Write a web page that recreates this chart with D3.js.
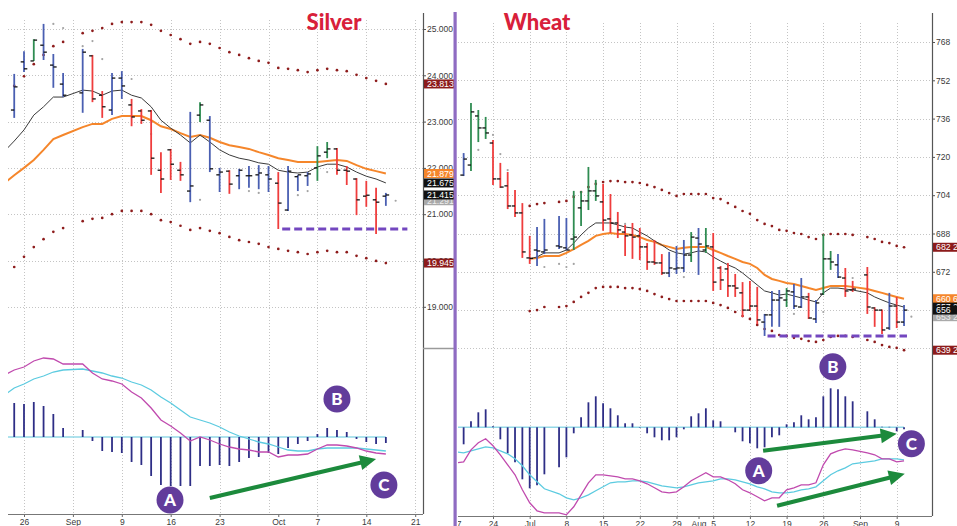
<!DOCTYPE html>
<html>
<head>
<meta charset="utf-8">
<script src="https://cdn.jsdelivr.net/npm/d3@7/dist/d3.min.js"></script>
<style>
  html, body { margin: 0; padding: 0; background: #fff; }
  svg { display: block; font-family: "Liberation Sans", Arial, sans-serif; }
  .title { font-family: Lato, "Open Sans", sans-serif; font-weight: 900; font-size: 22px; fill: #d8203a; }
  .mark-letter { font-family: Lato, "Open Sans", sans-serif; font-weight: 900; font-size: 17px; fill: #fff; }
</style>
</head>
<body>
<svg id="chart" width="957" height="526"></svg>
<script>
// ---------- trading calendar (weekday slots; holidays keep their slot) ----------
const fmtDay = d3.timeFormat("%b %-d");
function tradingSlots(start, end) {
  return d3.timeDay.range(start, d3.timeDay.offset(end, 1))
    .filter(d => d.getDay() !== 0 && d.getDay() !== 6);
}
const silverDates = tradingSlots(new Date(2013, 7, 22), new Date(2013, 9, 21));
const wheatDates  = tradingSlots(new Date(2013, 5, 17), new Date(2013, 8, 11));

// ---------- Silver (daily, Aug 22 - Oct 16) ----------
// [open, high, low, close]
const silverBars = [
  null,
  [23.25, 24.03, 23.08, 23.75], [24.29, 24.52, 24.07, 24.14], [24.31, 24.78, 24.31, 24.76],
  [24.65, 25.11, 24.33, 24.50], [24.22, 24.46, 23.73, 24.18], [23.81, 24.05, 23.53, 23.57],
  null,
  [23.62, 24.57, 23.19, 24.50], [24.42, 24.44, 23.42, 23.49], [23.57, 23.66, 23.08, 23.32],
  [23.25, 24.05, 23.14, 23.94], [23.94, 24.09, 23.49, 23.77], [23.36, 23.49, 22.90, 23.10],
  [23.23, 23.27, 22.95, 23.03], [23.23, 23.25, 21.85, 22.21], [21.95, 22.34, 21.46, 21.76],
  [22.39, 22.41, 21.74, 22.08], [21.95, 22.13, 21.72, 21.85], [21.50, 23.21, 21.26, 21.61],
  [23.14, 23.42, 22.99, 23.36], [23.03, 23.12, 21.91, 21.98], [21.85, 22.00, 21.48, 21.91],
  [21.93, 21.95, 21.44, 21.65], [21.83, 21.98, 21.54, 21.95], [21.83, 22.04, 21.57, 21.83],
  [21.85, 22.06, 21.54, 21.89], [21.85, 22.04, 21.48, 21.76], [21.67, 21.91, 20.68, 21.24],
  [21.09, 22.04, 21.07, 21.93], [21.81, 21.85, 21.50, 21.85], [21.83, 21.91, 21.61, 21.87],
  [22.00, 22.47, 21.72, 22.26], [22.34, 22.56, 22.21, 22.41], [22.41, 22.43, 21.85, 21.95],
  [21.95, 22.04, 21.63, 21.93], [21.76, 21.78, 20.98, 21.31], [21.39, 21.72, 21.16, 21.41],
  [21.31, 21.57, 20.57, 21.26], [21.39, 21.46, 21.18, 21.415]
];
const silverImpulse = [null,"b","b","g","b","b","b",null,"b","r","r","b","b","r","r","r","r","r","r","b",
  "g","b","b","r","b","b","b","b","r","b","b","b","g","g","r","r","r","r","r","b"];
const silverEmaFast = [22.36, 22.58, 22.82, 23.14, 23.32, 23.53, 23.53, null, 23.68, 23.66, 23.57, 23.66,
  23.68, 23.57, 23.51, 23.32, 23.03, 22.86, 22.71, 22.54, 22.71, 22.56, 22.39, 22.28, 22.21, 22.17, 22.11,
  22.08, 21.95, 21.91, 21.89, 21.91, 22.02, 22.08, 22.08, 22.02, 21.91, 21.82, 21.76, 21.675];
const silverEmaSlow = [21.67, 21.84, 22.00, 22.17, 22.39, 22.62, 22.71, null, 22.88, 22.95, 22.95, 23.06,
  23.12, 23.12, 23.12, 23.03, 22.90, 22.84, 22.75, 22.67, 22.71, 22.65, 22.56, 22.49, 22.45, 22.41, 22.34,
  22.28, 22.21, 22.17, 22.13, 22.13, 22.13, 22.15, 22.17, 22.15, 22.06, 21.98, 21.93, 21.879];
const silverUpper = [null, 23.77, 23.98, 24.24, 24.44, 24.63, 24.72, null, 24.91, 24.96, 25.02, 25.11,
  25.15, 25.15, 25.15, 25.09, 24.96, 24.87, 24.78, 24.68, 24.72, 24.68, 24.59, 24.50, 24.44, 24.37, 24.31,
  24.27, 24.16, 24.14, 24.11, 24.07, 24.11, 24.14, 24.11, 24.09, 24.01, 23.94, 23.88, 23.813];
const silverLower = [null, 19.86, 20.08, 20.29, 20.46, 20.62, 20.70, null, 20.85, 20.90, 20.92, 21.00,
  21.07, 21.07, 21.07, 21.00, 20.87, 20.83, 20.75, 20.66, 20.70, 20.64, 20.59, 20.51, 20.44, 20.40, 20.36,
  20.29, 20.25, 20.21, 20.18, 20.14, 20.18, 20.21, 20.18, 20.18, 20.10, 20.05, 19.99, 19.945];
const silverStops = [["Aug 29", 25.11], ["Aug 30", 25.02], ["Sep 3", 24.63], ["Sep 4", 24.74], ["Sep 5", 24.35],
  ["Sep 10", 23.92], ["Sep 12", 22.73], ["Sep 19", 21.31], ["Sep 26", 21.50], ["Sep 27", 21.46],
  ["Oct 3", 21.41], ["Oct 4", 21.50], ["Oct 8", 21.91], ["Oct 17", 21.291]];
const silverHist = [null, 0.170, 0.165, 0.175, 0.155, 0.115, 0.045, null, 0.035, -0.020, -0.070, -0.075,
  -0.080, -0.125, -0.140, -0.195, -0.240, -0.245, -0.245, -0.245, -0.145, -0.145, -0.140, -0.145, -0.125,
  -0.105, -0.100, -0.080, -0.085, -0.055, -0.035, -0.020, 0.015, 0.045, 0.035, 0.025, -0.010, -0.025,
  -0.035, -0.030];
const silverMacd = [0.31, 0.335, 0.35, 0.38, 0.395, 0.39, 0.365, null, 0.365, 0.32, 0.29, 0.28, 0.265,
  0.225, 0.195, 0.145, 0.085, 0.055, 0.02, -0.02, 0, -0.015, -0.035, -0.05, -0.06, -0.065, -0.075, -0.075,
  -0.10, -0.09, -0.09, -0.085, -0.06, -0.04, -0.04, -0.045, -0.055, -0.07, -0.08, -0.085];
const silverSignal = [0.21, 0.245, 0.265, 0.29, 0.305, 0.325, 0.335, null, 0.34, 0.33, 0.32, 0.305, 0.295,
  0.275, 0.26, 0.235, 0.20, 0.17, 0.135, 0.10, 0.085, 0.07, 0.05, 0.025, 0.005, -0.01, -0.025, -0.035,
  -0.05, -0.065, -0.07, -0.07, -0.06, -0.055, -0.055, -0.055, -0.055, -0.06, -0.065, -0.07];
const silverPriceTicks = [19, 20, 21, 22, 23, 24, 25];
const silverDateTicks = [["Aug 26", "26"], ["Sep 2", "Sep"], ["Sep 9", "9"], ["Sep 16", "16"], ["Sep 23", "23"],
  ["Oct 1", "Oct"], ["Oct 7", "7"], ["Oct 14", "14"], ["Oct 21", "21"]];
const silverSupport = { level: 20.68, from: 28.4, to: 41.2 };
const silverCallouts = [{ t: "A", slot: 16.93, v: -0.315 }, { t: "B", slot: 34.0, v: 0.19 }, { t: "C", slot: 38.8, v: -0.24 }];
const silverArrows = [{ from: [21.0, -0.305], to: [38.0, -0.11] }];

// ---------- Wheat (daily, Jun 18 - Sep 10) ----------
const wheatBars = [
  null,
  [712.4, 721.6, 712.0, 719.1], [716.6, 742.5, 714.1, 738.8], [737.1, 739.6, 726.2, 732.1],
  [732.1, 736.7, 727.5, 730.0], [725.8, 727.1, 708.3, 710.8], [710.8, 717.5, 707.0, 707.4],
  [707.9, 713.7, 698.2, 699.5], [699.5, 706.2, 694.9, 696.6], [696.6, 700.7, 677.8, 680.3],
  [677.8, 687.0, 675.3, 677.6], [681.1, 690.7, 674.4, 680.7], [680.3, 694.1, 679.4, 681.1],
  null,
  [682.8, 695.3, 681.5, 682.4], [682.0, 694.5, 681.1, 681.1], [685.7, 705.8, 681.1, 686.5],
  [698.7, 705.8, 691.1, 701.6], [701.6, 715.8, 697.8, 705.8], [705.8, 710.4, 701.6, 703.7],
  [701.2, 708.7, 689.1, 693.6], [694.1, 704.5, 688.2, 692.4], [692.4, 697.0, 686.1, 689.5],
  [688.6, 691.6, 678.6, 687.0], [687.4, 692.4, 677.4, 686.5], [687.0, 690.3, 676.9, 682.4],
  [682.4, 684.0, 672.8, 676.1], [676.1, 685.3, 674.9, 675.7], [675.7, 679.4, 670.7, 671.5],
  [671.5, 680.3, 669.8, 673.6], [673.2, 682.8, 671.1, 673.6], [673.6, 685.3, 671.9, 679.0],
  [679.0, 688.6, 676.1, 686.5], [686.1, 690.3, 670.7, 683.6], [681.1, 690.3, 679.9, 682.8],
  [682.4, 688.2, 664.0, 667.7], [673.6, 674.4, 664.4, 668.6], [673.2, 675.7, 661.5, 666.1],
  [666.1, 671.1, 661.5, 665.2], [663.2, 667.7, 653.1, 656.0], [656.0, 668.2, 655.6, 657.7],
  [657.7, 665.7, 650.2, 651.9], [651.0, 654.4, 645.2, 654.0], [654.0, 664.0, 649.0, 660.2],
  [660.2, 664.4, 649.0, 661.1], [660.2, 665.2, 657.3, 664.0], [663.6, 666.9, 656.5, 657.7],
  [657.3, 669.4, 656.9, 661.5], [661.5, 663.2, 652.3, 652.7], [652.3, 660.2, 650.6, 659.0],
  [662.7, 687.8, 662.3, 677.4], [677.4, 680.7, 672.8, 676.1], [674.9, 679.4, 669.4, 669.8],
  [669.4, 673.6, 661.5, 664.0], [664.4, 668.2, 663.6, 664.8],
  null,
  [670.7, 674.0, 654.4, 657.3], [656.9, 657.2, 649.0, 656.0], [656.0, 656.3, 646.0, 647.7],
  [648.5, 663.2, 647.7, 657.7], [657.7, 661.5, 648.5, 651.0], [651.0, 658.1, 649.4, 656.0]
];
const wheatImpulse = [null,"b","g","g","g","r","r","r","r","r","r","b","b",null,"b","b","g","g","g","g",
  "r","r","r","r","r","r","r","r","r","b","b","b","g","b","g","r","r","r","r","r","r","r","b","b","b","g",
  "b","b","r","b","g","g","b","r","r",null,"r","r","r","b","r","b"];
const wheatEmaFast = [null, null, null, null, null, null, null, null, null, null,
  677.4, 678.2, 679.9, null, 679.9, 681.1, 684.0, 687.4, 690.3, 692.4, 692.4, 692.4, 691.6, 690.7, 690.3,
  688.6, 687.0, 684.9, 683.2, 681.1, 679.9, 679.4, 679.9, 680.7, 680.3, 678.2, 676.5, 674.9, 673.6, 671.5,
  669.0, 666.5, 664.0, 663.2, 662.3, 662.7, 661.9, 661.1, 660.2, 659.4, 663.2, 665.2, 665.2, 664.8, 664.4,
  null, 663.2, 661.5, 660.2, 659.0, 658.1, 657.25];
const wheatEmaSlow = [null, null, null, null, null, null, null, null, null, null,
  677.4, 677.8, 678.6, null, 678.6, 679.9, 681.5, 683.2, 684.9, 687.0, 687.8, 688.2, 687.8, 687.8, 687.4,
  686.5, 685.3, 684.5, 683.2, 682.4, 681.5, 682.0, 682.4, 682.4, 682.4, 681.1, 679.9, 678.6, 677.4, 676.1,
  675.3, 673.6, 670.7, 669.0, 668.2, 667.3, 666.9, 666.1, 665.2, 664.4, 665.2, 666.1, 666.1, 666.1, 665.7,
  null, 664.8, 664.0, 663.2, 662.3, 661.5, 660.75];
const wheatUpper = [null, null, null, null, null, null, null, null, null, null,
  699.5, 700.3, 700.7, null, 701.2, 701.6, 703.3, 705.3, 707.4, 708.7, 709.5, 709.9, 709.9, 709.5, 709.5,
  709.1, 708.3, 707.4, 706.2, 704.9, 703.7, 704.5, 704.5, 704.5, 704.5, 702.8, 702.4, 700.7, 699.1, 697.4,
  696.2, 693.6, 692.0, 691.1, 689.5, 689.1, 688.2, 687.8, 686.5, 685.7, 687.4, 687.8, 687.8, 687.8, 687.4,
  null, 686.5, 685.7, 684.5, 684.0, 682.8, 682.25];
const wheatLower = [null, null, null, null, null, null, null, null, null, null,
  655.6, 656.0, 657.3, null, 657.3, 657.7, 659.4, 661.5, 663.2, 665.2, 665.7, 665.7, 665.7, 665.2, 665.2,
  664.8, 664.0, 662.7, 661.5, 660.6, 659.8, 659.8, 659.8, 659.8, 659.8, 659.0, 658.1, 656.9, 655.2, 653.5,
  652.3, 649.8, 648.1, 647.3, 645.6, 645.2, 644.4, 644.0, 643.1, 642.7, 643.5, 644.8, 645.2, 645.2, 644.8,
  null, 643.5, 642.7, 641.4, 640.6, 640.2, 639.25];
const wheatStops = [["Jun 20", 722.9], ["Jun 24", 729.2], ["Jun 25", 721.2], ["Jun 26", 714.5], ["Jul 3", 674.0],
  ["Jul 5", 675.3], ["Jul 8", 674.0], ["Jul 9", 675.3], ["Jul 18", 692.0], ["Jul 30", 669.8],
  ["Aug 20", 654.4], ["Aug 26", 655.2], ["Aug 30", 669.4], ["Sep 11", 653.25]];
const wheatHist = [null, -3.4, 1.2, 3.0, 3.6, 0.2, -2.4, -5.2, -7.0, -10.4, -12.2, -11.6, -9.4, null, -8.0,
  -6.0, -1.2, 2.0, 5.0, 6.2, 4.8, 3.8, 2.4, 0.8, 0.8, -0.1, -1.2, -2.0, -2.6, -2.6, -2.0, -0.4, 2.2, 2.8,
  3.8, 1.4, 1.2, 0.0, -1.0, -2.8, -3.2, -4.2, -4.0, -2.0, -1.6, 0.6, 1.0, 2.4, 1.6, 2.0, 6.2, 7.8, 7.6,
  6.2, 5.2, null, 3.2, 1.6, 0.1, 0.1, -0.8, -0.4];
const wheatMacd = [-7.1, -6.9, -4.5, -3.1, -2.3, -3.7, -5.5, -7.5, -9.5, -12.5, -15.1, -16.7, -17.1, null,
  -17.1, -17.5, -15.9, -13.5, -11.1, -9.5, -9.5, -9.7, -9.9, -10.3, -10.3, -10.7, -11.3, -12.1, -12.9,
  -13.1, -12.9, -11.9, -10.7, -9.9, -9.1, -9.9, -9.9, -10.5, -11.3, -12.5, -13.1, -13.9, -14.7, -14.1,
  -14.1, -12.5, -12.1, -11.5, -11.5, -11.1, -7.5, -5.3, -4.7, -4.3, -4.5, null, -5.1, -5.5, -6.3, -6.3,
  -6.9, -6.7];
const wheatSignal = [-4.9, -5.1, -4.7, -4.3, -3.9, -4.1, -4.7, -5.3, -6.3, -7.7, -9.5, -10.9, -12.3, null,
  -13.3, -14.1, -14.5, -14.1, -13.5, -12.7, -11.9, -11.1, -10.9, -10.9, -10.7, -10.7, -10.9, -11.3, -11.7,
  -11.9, -12.1, -11.9, -11.5, -11.1, -10.9, -10.7, -10.3, -10.3, -10.5, -10.9, -11.3, -11.9, -12.3, -12.9,
  -13.1, -13.1, -12.9, -12.5, -12.3, -11.9, -10.7, -9.5, -8.7, -8.1, -7.3, null, -6.9, -6.7, -6.3, -6.3,
  -6.3, -6.5];
const wheatPriceTicks = [640, 656, 672, 688, 704, 720, 736, 752, 768];
const wheatDateTicks = [["Jun 17", "17"], ["Jun 24", "24"], ["Jul 1", "Jul"], ["Jul 8", "8"], ["Jul 15", "15"],
  ["Jul 22", "22"], ["Jul 29", "29"], ["Aug 1", "Aug"], ["Aug 5", "5"], ["Aug 12", "12"], ["Aug 19", "19"],
  ["Aug 26", "26"], ["Sep 2", "Sep"], ["Sep 9", "9"]];
const wheatSupport = { level: 645.2, from: 42.4, to: 61.4 };
const wheatCallouts = [{ t: "A", slot: 41.2, v: -8.7 }, { t: "B", slot: 51.3, v: 12.1 }, { t: "C", slot: 62.0, v: -3.3 }];
const wheatArrows = [{ from: [41.8, -4.7], to: [60.0, -1.3] }, { from: [43.7, -15.7], to: [61.1, -9.3] }];

// ---------- styling ----------
const impulseColor = { b: "#4a5fb2", r: "#ef3d3d", g: "#2f8c52" };
const envColor = "#8e1c1c";
const purple = "#7347bf";
const calloutFill = "#623c9b";
const arrowGreen = "#1c8a3c";

const svg = d3.select("#chart");
const lastOf = arr => arr.filter(v => v != null).slice(-1)[0];
const series = arr => arr.map((v, i) => ({ i, v })).filter(d => d.v != null);

function fmtEighths(v) {
  const whole = Math.floor(v + 1e-9);
  const e = Math.round((v - whole) * 8);
  return e ? `${whole} ${e}/8` : `${whole}`;
}

function drawPanel(p) {
  const x = d3.scalePoint().domain(p.slots).range(p.xRange);
  const xi = s => p.xRange[0] + s * x.step();
  const y = d3.scaleLinear().domain(p.priceDomain).range(p.priceRange);
  const ym = d3.scaleLinear().domain(p.macdDomain).range(p.macdRange);
  const [L, R] = p.plotX;

  const clipId = p.id + "-clip";
  svg.append("clipPath").attr("id", clipId)
    .append("rect").attr("x", L).attr("y", 0).attr("width", R - L).attr("height", 526);
  const g = svg.append("g").attr("clip-path", `url(#${clipId})`);

  // weekly gridlines (Mondays)
  const mondays = p.dates.filter(d => d.getDay() === 1).map(fmtDay);
  g.append("g").selectAll("line").data(mondays).join("line")
    .attr("x1", d => Math.round(x(d)) + 0.5).attr("x2", d => Math.round(x(d)) + 0.5)
    .attr("y1", p.gridTop).attr("y2", p.axisY)
    .attr("stroke", "#c4c4c4").attr("stroke-dasharray", "1,2");
  // price gridlines
  g.append("g").selectAll("line").data(p.priceTicks).join("line")
    .attr("x1", L).attr("x2", p.axisX)
    .attr("y1", d => Math.round(y(d)) + 0.5).attr("y2", d => Math.round(y(d)) + 0.5)
    .attr("stroke", "#c4c4c4").attr("stroke-dasharray", "1,2");

  // envelope dots
  [p.upper, p.lower].forEach(arr => {
    g.append("g").selectAll("circle").data(series(arr)).join("circle")
      .attr("cx", d => x(p.slots[d.i])).attr("cy", d => y(d.v)).attr("r", 1.35).attr("fill", envColor);
  });
  // stop dots
  g.append("g").selectAll("circle").data(p.stops).join("circle")
    .attr("cx", d => x(d[0])).attr("cy", d => y(d[1])).attr("r", 1.1).attr("fill", "#a3a3a3");

  // moving averages
  const priceLine = d3.line().x(d => x(p.slots[d.i])).y(d => y(d.v));
  g.append("path").datum(series(p.emaSlow)).attr("d", priceLine)
    .attr("fill", "none").attr("stroke", "#f5862b").attr("stroke-width", 2);
  g.append("path").datum(series(p.emaFast)).attr("d", priceLine)
    .attr("fill", "none").attr("stroke", "#3a3a3a").attr("stroke-width", 1);

  // OHLC bars
  const barData = p.bars.map((b, i) => b ? { i, o: b[0], h: b[1], l: b[2], c: b[3], k: p.impulse[i] } : null)
    .filter(Boolean);
  const bx = d => x(p.slots[d.i]);
  g.append("g").selectAll("line").data(barData).join("line")
    .attr("x1", bx).attr("x2", bx).attr("y1", d => y(d.h)).attr("y2", d => y(d.l))
    .attr("stroke", d => impulseColor[d.k]).attr("stroke-width", 1.8);
  g.append("g").selectAll("line").data(barData).join("line")
    .attr("x1", d => bx(d) - 3.3).attr("x2", d => bx(d)).attr("y1", d => y(d.o)).attr("y2", d => y(d.o))
    .attr("stroke", "#111").attr("stroke-width", 1.3);
  g.append("g").selectAll("line").data(barData).join("line")
    .attr("x1", bx).attr("x2", d => bx(d) + 3.3).attr("y1", d => y(d.c)).attr("y2", d => y(d.c))
    .attr("stroke", "#111").attr("stroke-width", 1.3);

  // support level
  g.append("line")
    .attr("x1", xi(p.support.from)).attr("x2", xi(p.support.to))
    .attr("y1", y(p.support.level)).attr("y2", y(p.support.level))
    .attr("stroke", purple).attr("stroke-width", 3).attr("stroke-dasharray", "8,4");

  // MACD panel
  const histData = series(p.hist);
  const lastHist = lastOf(histData.map(d => d.i));
  g.append("line")
    .attr("x1", x(p.slots[0])).attr("x2", x(p.slots[lastHist]))
    .attr("y1", ym(0)).attr("y2", ym(0))
    .attr("stroke", "#93d8e7").attr("stroke-width", 1.6);
  g.append("g").selectAll("line").data(histData).join("line")
    .attr("x1", d => x(p.slots[d.i])).attr("x2", d => x(p.slots[d.i]))
    .attr("y1", ym(0)).attr("y2", d => ym(d.v))
    .attr("stroke", "#2e2e86").attr("stroke-width", 1.8);
  const macdLine = d3.line().x(d => x(p.slots[d.i])).y(d => ym(d.v));
  g.append("path").datum(series(p.signal)).attr("d", macdLine)
    .attr("fill", "none").attr("stroke", "#5ccbe0").attr("stroke-width", 1.3);
  g.append("path").datum(series(p.macd)).attr("d", macdLine)
    .attr("fill", "none").attr("stroke", "#c04aae").attr("stroke-width", 1.3);

  // price axis
  const ya = svg.append("g").attr("transform", `translate(${p.axisX},0)`)
    .call(d3.axisRight(y).tickValues(p.priceTicks).tickFormat(p.priceFmt).tickSize(3).tickPadding(1));
  ya.select(".domain").remove();
  ya.selectAll("line").attr("stroke", "#555");
  ya.selectAll("text").attr("font-size", 8.5).attr("fill", "#3a3a3a")
    .attr("font-family", "'Liberation Sans', Arial, sans-serif");
  svg.append("line")
    .attr("x1", p.axisX + 0.5).attr("x2", p.axisX + 0.5).attr("y1", 13).attr("y2", p.axisY)
    .attr("stroke", "#555").attr("stroke-width", 1.2);

  // date axis
  const tickMap = new Map(p.dateTicks);
  const xa = svg.append("g").attr("transform", `translate(0,${p.axisY})`).attr("clip-path", `url(#${clipId})`)
    .call(d3.axisBottom(x).tickValues(p.dateTicks.map(d => d[0])).tickFormat(d => tickMap.get(d))
      .tickSize(3).tickPadding(2));
  xa.select(".domain").remove();
  xa.selectAll("line").attr("stroke", "#666");
  xa.selectAll("text").attr("font-size", 8.5).attr("fill", "#3a3a3a")
    .attr("font-family", "'Liberation Sans', Arial, sans-serif");
  svg.append("line")
    .attr("x1", L).attr("x2", p.axisX).attr("y1", p.axisY + 0.5).attr("y2", p.axisY + 0.5)
    .attr("stroke", "#777").attr("stroke-width", 1);

  // last-value tags on the price axis
  const tags = svg.append("g");
  p.tags.forEach(t => {
    const cy = y(t.v);
    tags.append("rect").attr("x", p.axisX + 1).attr("y", cy - 4.5).attr("width", p.tagWidth).attr("height", 9)
      .attr("fill", t.fill);
    tags.append("text").attr("x", p.axisX + 4).attr("y", cy + 3.2).text(t.text)
      .attr("font-size", 8.8).attr("fill", t.color || "#fff")
      .attr("font-family", "'Liberation Sans', Arial, sans-serif");
  });

  // annotation arrows and callouts
  const ann = svg.append("g");
  p.arrows.forEach(a => {
    const x0 = xi(a.from[0]), y0 = ym(a.from[1]), x1 = xi(a.to[0]), y1 = ym(a.to[1]);
    const ang = Math.atan2(y1 - y0, x1 - x0), len = 16, half = 7.5;
    const bxp = x1 - len * Math.cos(ang), byp = y1 - len * Math.sin(ang);
    ann.append("line").attr("x1", x0).attr("y1", y0).attr("x2", bxp + 2 * Math.cos(ang)).attr("y2", byp + 2 * Math.sin(ang))
      .attr("stroke", arrowGreen).attr("stroke-width", 4);
    const pts = [[x1, y1],
      [bxp + half * Math.sin(ang), byp - half * Math.cos(ang)],
      [bxp - half * Math.sin(ang), byp + half * Math.cos(ang)]];
    ann.append("polygon").attr("points", pts.map(q => q.join(",")).join(" ")).attr("fill", arrowGreen);
  });
  p.callouts.forEach(c => {
    const cx = xi(c.slot), cy = ym(c.v);
    ann.append("circle").attr("cx", cx).attr("cy", cy).attr("r", 13.5).attr("fill", calloutFill);
    ann.append("text").attr("class", "mark-letter").attr("x", cx).attr("y", cy + 6)
      .attr("text-anchor", "middle").text(c.t);
  });

  // title
  svg.append("text").attr("class", "title").attr("x", p.titleX).attr("y", 30)
    .attr("text-anchor", "middle").text(p.title);
}

const silverFmt = d3.format(".3f");
drawPanel({
  id: "silver", title: "Silver", titleX: 334,
  slots: silverDates.map(fmtDay), dates: silverDates,
  xRange: [4.44, 4.44 + 42 * 9.78], plotX: [8, 423], axisX: 423, axisY: 514, gridTop: 20,
  priceDomain: [19, 25], priceRange: [306.8, 29], macdDomain: [-0.4, 0.4], macdRange: [517, 357],
  priceTicks: silverPriceTicks, priceFmt: silverFmt, dateTicks: silverDateTicks,
  bars: silverBars, impulse: silverImpulse, emaFast: silverEmaFast, emaSlow: silverEmaSlow,
  upper: silverUpper, lower: silverLower, stops: silverStops,
  hist: silverHist, macd: silverMacd, signal: silverSignal,
  support: silverSupport, callouts: silverCallouts, arrows: silverArrows, tagWidth: 30,
  tags: [
    { v: lastOf(silverUpper), text: silverFmt(lastOf(silverUpper)), fill: "#8c1b1b" },
    { v: lastOf(silverLower), text: silverFmt(lastOf(silverLower)), fill: "#8c1b1b" },
    { v: lastOf(silverEmaSlow), text: silverFmt(lastOf(silverEmaSlow)), fill: "#f5862b" },
    { v: lastOf(silverEmaFast), text: silverFmt(lastOf(silverEmaFast)), fill: "#111" },
    { v: silverStops[silverStops.length - 1][1], text: silverFmt(silverStops[silverStops.length - 1][1]), fill: "#a9a9a9", color: "#eee" },
    { v: lastOf(silverBars)[3], text: silverFmt(lastOf(silverBars)[3]), fill: "#111" }
  ]
});

drawPanel({
  id: "wheat", title: "Wheat", titleX: 537,
  slots: wheatDates.map(fmtDay), dates: wheatDates,
  xRange: [456.3, 456.3 + 62 * 7.34], plotX: [458, 932], axisX: 932, axisY: 516, gridTop: 23,
  priceDomain: [640, 768], priceRange: [348.4, 42], macdDomain: [-20, 20], macdRange: [527.3, 327.3],
  priceTicks: wheatPriceTicks, priceFmt: d3.format("d"), dateTicks: wheatDateTicks,
  bars: wheatBars, impulse: wheatImpulse, emaFast: wheatEmaFast, emaSlow: wheatEmaSlow,
  upper: wheatUpper, lower: wheatLower, stops: wheatStops,
  hist: wheatHist, macd: wheatMacd, signal: wheatSignal,
  support: wheatSupport, callouts: wheatCallouts, arrows: wheatArrows, tagWidth: 40,
  tags: [
    { v: lastOf(wheatUpper), text: fmtEighths(lastOf(wheatUpper)), fill: "#8c1b1b" },
    { v: lastOf(wheatLower), text: fmtEighths(lastOf(wheatLower)), fill: "#8c1b1b" },
    { v: lastOf(wheatEmaSlow), text: fmtEighths(lastOf(wheatEmaSlow)), fill: "#f5862b" },
    { v: lastOf(wheatEmaFast), text: fmtEighths(lastOf(wheatEmaFast)), fill: "#111" },
    { v: wheatStops[wheatStops.length - 1][1], text: fmtEighths(wheatStops[wheatStops.length - 1][1]), fill: "#a9a9a9", color: "#eee" },
    { v: lastOf(wheatBars)[3], text: fmtEighths(lastOf(wheatBars)[3]), fill: "#111" }
  ]
});

// divider under the silver price scale and the purple panel separator
svg.append("line").attr("x1", 423).attr("x2", 454).attr("y1", 348.5).attr("y2", 348.5)
  .attr("stroke", "#9a9a9a").attr("stroke-width", 1.5);
svg.append("rect").attr("x", 453.5).attr("y", 12).attr("width", 3.2).attr("height", 514).attr("fill", "#8f6cc2");
</script>
</body>
</html>
